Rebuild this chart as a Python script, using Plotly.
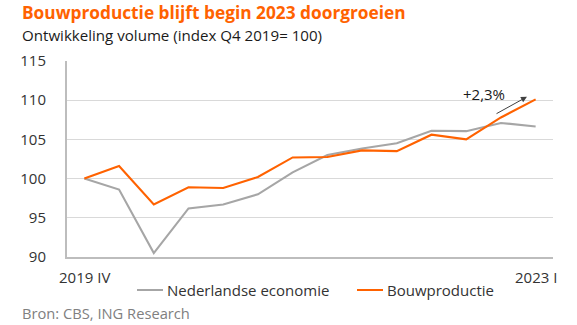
import plotly.graph_objects as go

# Kwartalen 2019 IV t/m 2023 I
quarters = ["2019 IV", "2020 I", "2020 II", "2020 III", "2020 IV",
            "2021 I", "2021 II", "2021 III", "2021 IV",
            "2022 I", "2022 II", "2022 III", "2022 IV", "2023 I"]

economie = [100.0, 98.6, 90.5, 96.2, 96.7, 98.0, 100.8, 103.0,
            103.85, 104.5, 106.1, 106.05, 107.1, 106.65]
bouwproductie = [100.0, 101.6, 96.7, 98.9, 98.8, 100.2, 102.7, 102.75,
                 103.6, 103.5, 105.6, 105.0, 107.8, 110.1]

y_ticks = [90, 95, 100, 105, 110, 115]

ORANGE = "#FF6200"
GREY = "#A6A6A6"
TEXT = "#333333"
FONT = "Open Sans"

# plotgebied in pixels
L, R, T, B = 67, 24, 61, 68
W, H = 577, 325
PW, PH = W - L - R, H - T - B


def px_x(px):
    return (px - L) / PW


def px_y(py):
    return (H - B - py) / PH


idx = list(range(len(quarters)))

fig = go.Figure()
fig.add_trace(go.Scatter(x=idx, y=economie, mode="lines", name="Nederlandse economie",
                         line=dict(color=GREY, width=2.1), showlegend=False))
fig.add_trace(go.Scatter(x=idx, y=bouwproductie, mode="lines", name="Bouwproductie",
                         line=dict(color=ORANGE, width=2.1), showlegend=False))

fig.update_layout(
    width=W, height=H,
    margin=dict(l=L, r=R, t=T, b=B),
    paper_bgcolor="white", plot_bgcolor="white",
    font=dict(family=FONT, size=15, color=TEXT),
    showlegend=False,
)
fig.update_xaxes(range=[-0.5, len(quarters) - 0.5], showticklabels=False, ticks="",
                 showgrid=False, zeroline=False, showline=True,
                 linecolor="#BDBDBD", linewidth=2)
fig.update_yaxes(range=[90, 115], tickvals=y_ticks, ticks="", showgrid=True,
                 gridcolor="#D9D9D9", gridwidth=1, zeroline=False,
                 showline=True, linecolor="#BDBDBD", linewidth=2,
                 tickfont=dict(family=FONT, size=15, color=TEXT), ticklabelstandoff=16)

# Titel en ondertitel
fig.add_annotation(text="<b>Bouwproductie blijft begin 2023 doorgroeien</b>",
                   xref="paper", yref="paper", x=px_x(20), y=px_y(13),
                   xanchor="left", yanchor="middle", showarrow=False,
                   font=dict(family=FONT, size=17.3, color=ORANGE))
fig.add_annotation(text="Ontwikkeling volume (index Q4 2019= 100)",
                   xref="paper", yref="paper", x=px_x(20), y=px_y(35),
                   xanchor="left", yanchor="middle", showarrow=False,
                   font=dict(family=FONT, size=15.1, color="#1a1a1a"))

# Labels eerste en laatste kwartaal
for q in (0, len(quarters) - 1):
    fig.add_annotation(text=quarters[q], xref="x", yref="paper",
                       x=q, y=px_y(277), xanchor="center", yanchor="middle",
                       showarrow=False, font=dict(family=FONT, size=15, color=TEXT))

# Legenda
legend_items = [("Nederlandse economie", GREY, 137), ("Bouwproductie", ORANGE, 357)]
for label, color, x0 in legend_items:
    fig.add_shape(type="line", xref="paper", yref="paper",
                  x0=px_x(x0), x1=px_x(x0 + 26), y0=px_y(290), y1=px_y(290),
                  line=dict(color=color, width=2))
    fig.add_annotation(text=label, xref="paper", yref="paper",
                       x=px_x(x0 + 28), y=px_y(290),
                       xanchor="left", yanchor="middle", showarrow=False,
                       font=dict(family=FONT, size=15, color=TEXT))

# Bron
fig.add_annotation(text="Bron: CBS, ING Research", xref="paper", yref="paper",
                   x=px_x(20), y=px_y(313), xanchor="left", yanchor="middle",
                   showarrow=False, font=dict(family=FONT, size=14.7, color="#808080"))

# Groeipijl met percentage
fig.add_annotation(x=12.75, y=110.43, ax=11.83, ay=108.18, xref="x", yref="y",
                   axref="x", ayref="y", text="", showarrow=True,
                   arrowhead=2, arrowsize=1.2, arrowwidth=1, arrowcolor="#404040")
fig.add_annotation(text="+2,3%", x=11.51, y=110.8, xref="x", yref="y",
                   xanchor="center", yanchor="middle", showarrow=False,
                   font=dict(family=FONT, size=15, color="#1a1a1a"))

fig.write_html("out.html")
